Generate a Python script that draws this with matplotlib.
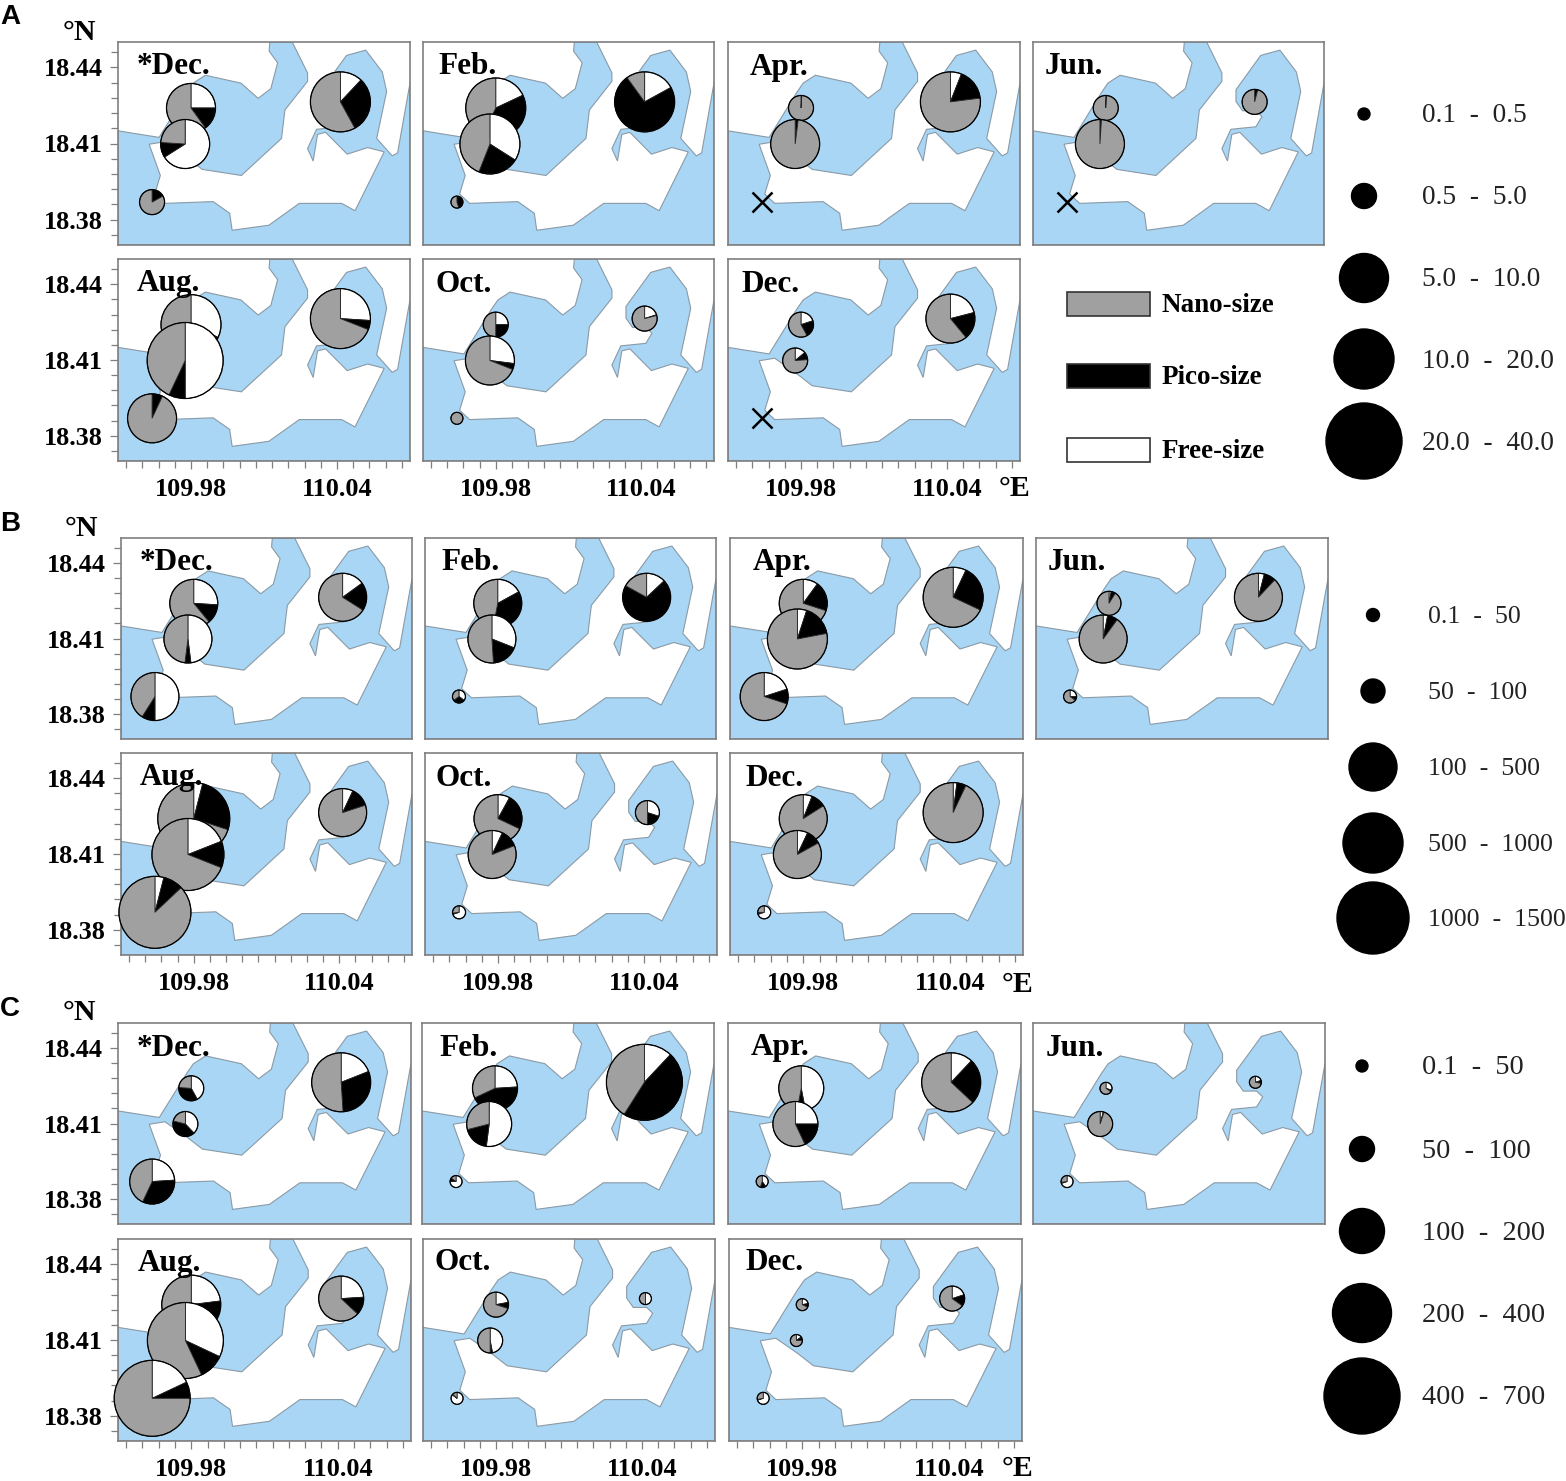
import numpy as np
import matplotlib
matplotlib.use("Agg")
import matplotlib.pyplot as plt
from matplotlib.patches import Wedge, Circle, Rectangle, Polygon
from matplotlib.transforms import Affine2D

W, H = 1566, 1481

# coast outline of the water body (lon, lat)
coast_lon = [109.95, 109.9669, 109.9781, 109.9809, 109.9859, 110.0005, 110.0076, 110.0128, 110.0156,
             110.0121, 110.0124, 110.0216, 110.0279, 110.0279, 110.0186, 110.0172, 110.0007, 109.9846,
             109.9781, 109.9692, 109.9628, 109.9674, 109.9651, 109.9692, 109.9891, 109.9959, 109.9969,
             110.0120, 110.0245, 110.0419, 110.0474, 110.0594, 110.0526, 110.0442, 110.0353, 110.0320,
             110.0302, 110.0279, 110.0316, 110.0419, 110.0444, 110.0419, 110.0364, 110.0337, 110.0337,
             110.0439, 110.0518, 110.0586, 110.0604, 110.0563, 110.0627, 110.0649, 110.07, 110.07, 109.95]
coast_lat = [18.4150, 18.4124, 18.4299, 18.4338, 18.4369, 18.4338, 18.4278, 18.4316, 18.4418,
             18.4464, 18.45, 18.45, 18.4378, 18.4345, 18.4232, 18.4120, 18.3974, 18.3998,
             18.4047, 18.4107, 18.4097, 18.3974, 18.3901, 18.3864, 18.3871, 18.3825, 18.3758,
             18.3778, 18.3864, 18.3864, 18.3835, 18.4067, 18.4084, 18.4058, 18.4144, 18.4136,
             18.4031, 18.4080, 18.4156, 18.4166, 18.4206, 18.4229, 18.4229, 18.4266, 18.4312,
             18.4447, 18.4468, 18.4382, 18.4305, 18.4120, 18.4051, 18.4063, 18.4338, 18.37, 18.37]

station_lon = [109.9800, 109.9776, 109.9640, 110.0414]
station_lat = [18.4240, 18.4098, 18.3869, 18.4264]

months = ["*Dec.", "Feb.", "Apr.", "Jun.", "Aug.", "Oct.", "Dec."]

# size class of each pie, one row per cruise, one column per station (None = no sample)
class_a = [[2, 2, 1, 3], [3, 3, 0, 3], [1, 2, None, 3], [1, 2, None, 1], [3, 4, 2, 3], [1, 2, 0, 1], [1, 1, None, 2]]
free_a = [[25, 66, 0, 12], [18, 34, 0, 17], [0, 0, 0, 6], [0, 0, 0, 0], [32, 50, 0, 26], [25, 27, 0, 20], [20, 14, 0, 21]]
pico_a = [[15, 10, 17, 30], [39, 22, 45, 73], [1, 2, 0, 17], [1, 1, 0, 4], [18, 7, 7, 5], [25, 4, 0, 1], [22, 10, 0, 18]]
nano_a = [[60, 24, 83, 58], [43, 44, 55, 10], [99, 98, 0, 77], [99, 99, 0, 96], [50, 43, 93, 69], [50, 69, 100, 79], [58, 76, 0, 61]]

class_b = [[2, 2, 2, 2], [2, 2, 0, 2], [2, 3, 2, 3], [1, 2, 0, 2], [4, 4, 4, 2], [2, 2, 0, 1], [2, 2, 0, 3]]
free_b = [[26, 48, 50, 15], [17, 31, 35, 13], [10, 5, 20, 7], [3, 3, 25, 4], [4, 19, 4, 7], [8, 7, 70, 30], [6, 7, 70, 2]]
pico_b = [[13, 4, 9, 19], [36, 18, 30, 70], [20, 17, 10, 25], [6, 7, 10, 8], [26, 12, 9, 13], [24, 12, 3, 20], [10, 10, 5, 5]]
nano_b = [[61, 48, 41, 66], [47, 51, 35, 17], [70, 78, 70, 68], [91, 90, 65, 88], [70, 69, 87, 80], [68, 81, 27, 50], [84, 83, 25, 93]]

class_c = [[1, 1, 2, 3], [2, 2, 0, 4], [2, 2, 0, 3], [0, 1, 0, 0], [3, 4, 4, 2], [1, 1, 0, 0], [0, 0, 0, 1]]
free_c = [[42, 38, 24, 19], [24, 52, 75, 12], [47, 25, 40, 12], [30, 4, 70, 20], [23, 32, 18, 24], [22, 47, 85, 50], [22, 15, 70, 20]]
pico_c = [[34, 41, 33, 30], [44, 19, 10, 47], [6, 18, 15, 25], [5, 1, 3, 8], [11, 11, 7, 13], [8, 3, 2, 0], [10, 10, 2, 15]]
nano_c = [[24, 21, 43, 51], [32, 29, 15, 41], [47, 57, 45, 63], [65, 95, 27, 72], [66, 57, 75, 63], [70, 50, 13, 50], [68, 75, 28, 65]]

labels_a = ["0.1  -  0.5", "0.5  -  5.0", "5.0  -  10.0", "10.0  -  20.0", "20.0  -  40.0"]
labels_b = ["0.1  -  50", "50  -  100", "100  -  500", "500  -  1000", "1000  -  1500"]
labels_c = ["0.1  -  50", "50  -  100", "100  -  200", "200  -  400", "400  -  700"]

size_names = ["Nano-size", "Pico-size", "Free-size"]

# layout, in picture pixels
WATER = "#A8D6F4"
NANO = "#A0A0A0"
EDGE = "#7F7F7F"
SERIF = "Liberation Serif"

groups = [
    dict(data=(class_a, free_a, pico_a, nano_a), radii=[6, 12.5, 24.5, 30, 38], labels=labels_a, leg_fs=19.7,
         lefts=[118, 423, 728, 1033, 118, 423, 728], rights=[410, 714, 1020, 1324, 410, 714, 1020],
         tops=(42, 259), bottoms=(245, 461), leg_x=1364, leg_lab=1422, leg_y=[114, 196, 278, 359, 441],
         letter=("A", 10, 17), north=(79, 33), east=(1015, 489),
         month_dx=[19, 15, 22, 12, 19, 13, 14], month_y=(66, 283)),
    dict(data=(class_b, free_b, pico_b, nano_b), radii=[6.5, 12, 24, 30, 36], labels=labels_b, leg_fs=18.6,
         lefts=[121, 425, 730, 1036, 121, 425, 730], rights=[412, 716, 1023, 1328, 412, 717, 1023],
         tops=(538, 753), bottoms=(739, 955), leg_x=1373, leg_lab=1428, leg_y=[615, 691, 767, 843, 918],
         letter=("B", 10, 524), north=(81, 528), east=(1017, 985),
         month_dx=[19, 16, 23, 12, 19, 11, 15], month_y=(562, 777)),
    dict(data=(class_c, free_c, pico_c, nano_c), radii=[6, 12.5, 22.5, 29.5, 38], labels=labels_c, leg_fs=20.3,
         lefts=[118, 422, 728, 1033, 118, 423, 729], rights=[411, 714, 1021, 1325, 411, 715, 1022],
         tops=(1023, 1239), bottoms=(1224, 1441), leg_x=1362, leg_lab=1422, leg_y=[1066, 1149, 1231, 1313, 1396],
         letter=("C", 10, 1009), north=(79, 1013), east=(1017, 1469),
         month_dx=[19, 17, 23, 13, 20, 12, 16], month_y=(1047, 1262)),
]


def fig_text(x, y, s, **kw):
    fig.text(x / W, 1 - y / H, s, va="center", **kw)


def draw_pie(ax, lon, lat, radius, shares):
    # pies stay round and unclipped, so they are placed in display pixels
    px, py = ax.transData.transform((lon, lat))
    trans = Affine2D().translate(px, py)
    start = 90.0
    total = float(sum(shares))
    for share, col in zip(shares, ["white", "black", NANO]):
        if share <= 0:
            continue
        end = start - 360.0 * share / total
        ax.add_patch(Wedge((0, 0), radius, end, start, facecolor=col, edgecolor="#222222", linewidth=0.6,
                           transform=trans, clip_on=False, zorder=4))
        start = end
    ax.add_patch(Circle((0, 0), radius, fill=False, edgecolor="black", linewidth=0.9,
                        transform=trans, clip_on=False, zorder=4))


fig = plt.figure(figsize=(W / 100, H / 100), dpi=100, facecolor="white")

for g in groups:
    classes, free, pico, nano = g["data"]
    for i, month in enumerate(months):
        row = 0 if i < 4 else 1
        left, right = g["lefts"][i], g["rights"][i]
        top, bottom = g["tops"][row], g["bottoms"][row]
        ax = fig.add_axes([left / W, 1 - bottom / H, (right - left) / W, (bottom - top) / H])
        ax.set_xlim(109.95, 110.07)
        ax.set_ylim(18.37, 18.45)
        ax.add_patch(Polygon(np.column_stack([coast_lon, coast_lat]), closed=True, facecolor=WATER,
                             edgecolor="#8A9AA6", linewidth=0.8, zorder=1))
        for s in ax.spines.values():
            s.set_color(EDGE)
            s.set_linewidth(1.2)
            s.set_zorder(3)

        if i in (0, 4):
            ax.set_yticks([18.38, 18.41, 18.44])
            ax.set_yticklabels(["18.38", "18.41", "18.44"], fontfamily=SERIF, fontweight="bold", fontsize=18.8)
            ax.set_yticks(18.38 + 0.006 * np.array([-1, 1, 2, 3, 4, 6, 7, 8, 9, 11]), minor=True)
        else:
            ax.set_yticks([])
        if i >= 4:
            ax.set_xticks([109.98, 110.04])
            ax.set_xticklabels(["109.98", "110.04"], fontfamily=SERIF, fontweight="bold", fontsize=18.8)
            ax.set_xticks(109.98 + 0.02 / 3 * np.array([-4, -3, -2, -1, 1, 2, 3, 4, 5, 6, 7, 8, 10, 11, 12, 13]), minor=True)
        else:
            ax.set_xticks([])
        ax.tick_params(which="major", length=6, width=0.9, color=EDGE)
        ax.tick_params(which="minor", length=5, width=0.9, color=EDGE)
        ax.tick_params(axis="x", which="major", pad=6)
        ax.tick_params(axis="y", which="major", pad=5)

        for k in range(4):
            if classes[i][k] is None:
                ax.plot(station_lon[k], station_lat[k], marker="x", markersize=14, markeredgewidth=1.8,
                        color="black", clip_on=False, zorder=4)
            else:
                draw_pie(ax, station_lon[k], station_lat[k], g["radii"][classes[i][k]],
                         (free[i][k], pico[i][k], nano[i][k]))

        fig_text(left + g["month_dx"][i], g["month_y"][row] + 1, month, family=SERIF, fontweight="bold",
                 fontsize=22.5, zorder=6)

    letter, lx, ly = g["letter"]
    fig_text(lx, ly, letter, family="Liberation Sans", fontweight="bold", fontsize=20, ha="center")
    fig_text(g["north"][0], g["north"][1], "°N", family=SERIF, fontweight="bold", fontsize=21.5, ha="center")
    fig_text(g["east"][0], g["east"][1], "°E", family=SERIF, fontweight="bold", fontsize=21.5, ha="center")

# overlay in picture pixels for the legends
over = fig.add_axes([0, 0, 1, 1], zorder=10)
over.set_xlim(0, W)
over.set_ylim(H, 0)
over.axis("off")

for g in groups:
    for y, r, lab in zip(g["leg_y"], g["radii"], g["labels"]):
        over.add_patch(Circle((g["leg_x"], y), r, facecolor="black", edgecolor="black"))
        over.text(g["leg_lab"], y + 2, lab, family=SERIF, fontsize=g["leg_fs"], va="center", color="#222222")

for y, name, col in zip([304, 376, 450], size_names, [NANO, "black", "white"]):
    over.add_patch(Rectangle((1067, y - 12), 83, 24, facecolor=col, edgecolor="#333333", linewidth=1.2))
    over.text(1162, y + 2, name, family=SERIF, fontweight="bold", fontsize=19.5, va="center")

fig.savefig("out.png", dpi=100)
